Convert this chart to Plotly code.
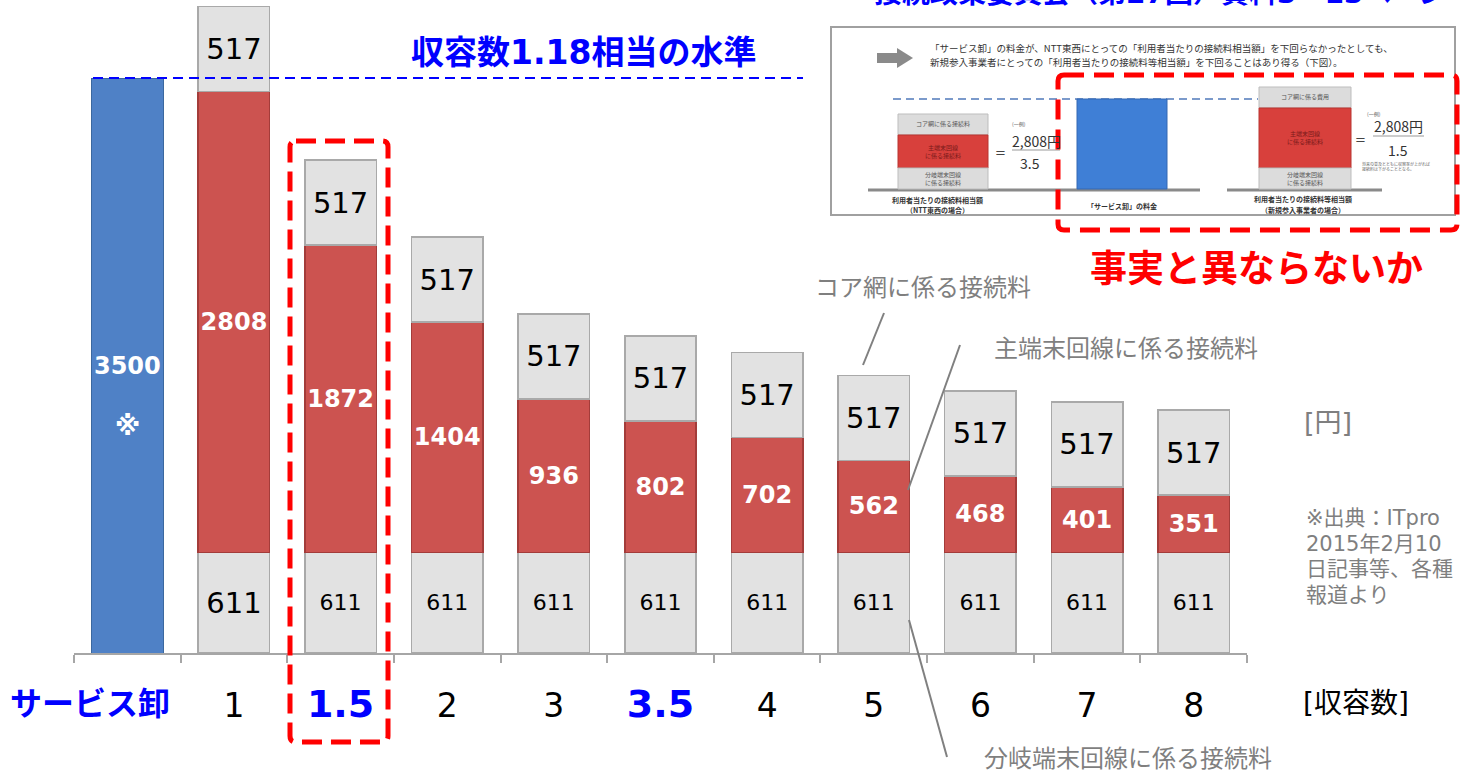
import plotly.graph_objects as go

# ---------------- data ----------------
categories = ["サービス卸", "1", "1.5", "2", "3", "3.5", "4", "5", "6", "7", "8"]
wholesale = [3500, None, None, None, None, None, None, None, None, None, None]
branch_line = [None, 611, 611, 611, 611, 611, 611, 611, 611, 611, 611]
main_line = [None, 2808, 1872, 1404, 936, 802, 702, 562, 468, 401, 351]
core_net = [None, 517, 517, 517, 517, 517, 517, 517, 517, 517, 517]
tick_labels = [
    "",  # first category label drawn as an offset annotation below
    "1",
    "<span style='color:#0000ff;font-size:38px'><b>1.5</b></span>",
    "2", "3",
    "<span style='color:#0000ff;font-size:38px'><b>3.5</b></span>",
    "4", "5", "6", "7", "8",
]

FONT = "DejaVu Sans, Noto Sans CJK JP"
JP = "Noto Sans CJK JP"

# plot-area geometry (pixels) used only for decorations
L, T, W, H = 74, 0, 1173, 653
def px(x):
    return (x - L) / W
def py(y):
    return (T + H - y) / H

def txt(v):
    return [None if a is None else str(a) for a in v]

fig = go.Figure()

common = dict(textposition="inside", insidetextanchor="middle", constraintext="none", textangle=0)

fig.add_trace(go.Bar(
    x=categories, y=wholesale, name="サービス卸",
    marker=dict(color="#4f81c6", line=dict(color="#3b689f", width=1)),
    text=["3500" if v else None for v in wholesale], texttemplate="<b>%{text}</b>",
    textfont=dict(family=FONT, size=24, color="white"), **common,
))
fig.add_trace(go.Bar(
    x=categories, y=branch_line, name="分岐端末回線に係る接続料",
    marker=dict(color="#e2e2e2", line=dict(color="#a9a9a9", width=1.5)),
    text=txt(branch_line), texttemplate="%{text}",
    textfont=dict(family=FONT, size=[23, 29] + [22] * 9, color="black"), **common,
))
fig.add_trace(go.Bar(
    x=categories, y=main_line, name="主端末回線に係る接続料",
    marker=dict(color="#cc5350", line=dict(color="#a33c3a", width=1.5)),
    text=txt(main_line), texttemplate="<b>%{text}</b>",
    textfont=dict(family=FONT, size=24, color="white"), **common,
))
fig.add_trace(go.Bar(
    x=categories, y=core_net, name="コア網に係る接続料",
    marker=dict(color="#e2e2e2", line=dict(color="#a9a9a9", width=1.5)),
    text=txt(core_net), texttemplate="%{text}",
    textfont=dict(family=FONT, size=29, color="black"), **common,
))

annotations = []
def ann(text, x, y, size, color, bold=False, xanchor="center", yanchor="middle", family=FONT, align="center"):
    annotations.append(dict(
        text=f"<b>{text}</b>" if bold else text, x=px(x), y=py(y),
        xref="paper", yref="paper", showarrow=False, xanchor=xanchor, yanchor=yanchor,
        align=align, font=dict(size=size, color=color, family=family)))

# ※ under 3500
annotations.append(dict(text="<b>※</b>", x=categories[0], y=wholesale[0] / 2, xref="x", yref="y",
                        yshift=-60, showarrow=False, font=dict(size=26, color="white", family=FONT)))
# first category label (shifted left as in the original)
annotations.append(dict(text="<b>" + categories[0] + "</b>", x=categories[0], y=py(704), xref="x", yref="paper",
                        xshift=-37, showarrow=False, xanchor="center", yanchor="middle",
                        font=dict(size=32, color="#0000ff", family=FONT)))

ann("収容数1.18相当の水準", 583, 53, 33, "#0000ff", bold=True)
ann("接続政策委員会（第27回）資料3－13ページ", 1160, -6, 28, "#0000ff", bold=True)
ann("事実と異ならないか", 1256, 270, 37, "#ff0000", bold=True)
ann("コア網に係る接続料", 923, 285, 24, "#7f7f7f", family=JP)
ann("主端末回線に係る接続料", 1126, 346, 24, "#7f7f7f", family=JP)
ann("分岐端末回線に係る接続料", 1128, 757, 24, "#7f7f7f", family=JP)
ann("[円]", 1328, 422, 27, "#7f7f7f")
ann("[収容数]", 1356, 703, 28, "black")
for i, line_txt in enumerate(["※出典：ITpro", "2015年2月10", "日記事等、各種", "報道より"]):
    ann(line_txt, 1304, 518 + i * 25.5, 21, "#7f7f7f", xanchor="left")

shapes = []
def line(x0, y0, x1, y1, color, width, dash="solid"):
    shapes.append(dict(type="line", xref="paper", yref="paper", x0=px(x0), y0=py(y0), x1=px(x1), y1=py(y1),
                       line=dict(color=color, width=width, dash=dash)))
def rect(x0, y0, x1, y1, fill, lc=None, lw=0, layer="above"):
    shapes.append(dict(type="rect", xref="paper", yref="paper", x0=px(x0), y0=py(y0), x1=px(x1), y1=py(y1),
                       fillcolor=fill, line=dict(color=lc or fill, width=lw), layer=layer))
def rrect(x0, y0, x1, y1, r, color, width, dash):
    p = (f"M {px(x0+r)},{py(y0)} L {px(x1-r)},{py(y0)} Q {px(x1)},{py(y0)} {px(x1)},{py(y0+r)} "
         f"L {px(x1)},{py(y1-r)} Q {px(x1)},{py(y1)} {px(x1-r)},{py(y1)} "
         f"L {px(x0+r)},{py(y1)} Q {px(x0)},{py(y1)} {px(x0)},{py(y1-r)} "
         f"L {px(x0)},{py(y0+r)} Q {px(x0)},{py(y0)} {px(x0+r)},{py(y0)} Z")
    shapes.append(dict(type="path", xref="paper", yref="paper", path=p,
                       line=dict(color=color, width=width, dash=dash)))

# 3500 reference level
line(93, 78, 803, 78, "#0000ff", 2, "10px,6px")

# callout lines
line(884, 313, 863, 365, "#808080", 2)
line(960, 345, 908, 490, "#808080", 2)
line(909, 620, 947, 757, "#808080", 2)

# ---- inset (document excerpt) ----
rect(831, 27, 1455, 215, "white", "#a0a0a0", 2)
rect(877, 53, 898, 63, "#8a8a8a")
shapes.append(dict(type="path", xref="paper", yref="paper",
                   path=f"M {px(897)},{py(48)} L {px(913)},{py(58)} L {px(897)},{py(68)} Z",
                   fillcolor="#8a8a8a", line=dict(width=0)))
ann("「サービス卸」の料金が、NTT東西にとっての「利用者当たりの接続料相当額」を下回らなかったとしても、",
    928, 48, 9.5, "#333333", xanchor="left", family=JP)
ann("新規参入事業者にとっての「利用者当たりの接続料等相当額」を下回ることはあり得る（下図）。",
    928, 62, 9.5, "#333333", xanchor="left", family=JP)
line(893, 99, 1258, 99, "#7b9acb", 2, "8px,5px")
line(868, 190, 1200, 190, "#8a8a8a", 3)
line(1227, 190, 1382, 190, "#8a8a8a", 3)
# left small stack
rect(898, 114, 988, 135, "#dcdcdc", "#bdbdbd", 1)
rect(898, 135, 988, 168, "#d8403c", "#b83430", 1)
rect(898, 168, 988, 189, "#dcdcdc", "#bdbdbd", 1)
ann("コア網に係る接続料", 943, 124, 6, "#555555", family=JP)
ann("主端末回線<br>に係る接続料", 943, 151, 6, "#7a1a1a", family=JP)
ann("分岐端末回線<br>に係る接続料", 943, 178, 6, "#555555", family=JP)
ann("(一例)", 1019, 124, 5, "#555555", family=JP)
ann("=", 1000, 152, 13, "#444444")
ann("2,808円", 1036, 141, 14, "#333333", family=JP)
line(1012, 150, 1060, 150, "#999999", 1)
ann("3.5", 1030, 163, 14, "#333333", family=JP)
ann("<b>利用者当たりの接続料相当額</b>", 937, 200, 7, "#333333", family=JP)
ann("<b>（NTT東西の場合）</b>", 937, 210, 7, "#333333", family=JP)
# blue bar
rect(1077, 99, 1167, 189, "#3f7fd6", "#3569b3", 1)
ann("<b>「サービス卸」の料金</b>", 1122, 206, 7, "#333333", family=JP)
# right small stack
rect(1259, 87, 1351, 108, "#dcdcdc", "#bdbdbd", 1)
rect(1259, 108, 1351, 168, "#d8403c", "#b83430", 1)
rect(1259, 168, 1351, 189, "#dcdcdc", "#bdbdbd", 1)
ann("コア網に係る費用", 1305, 97, 6, "#555555", family=JP)
ann("主端末回線<br>に係る接続料", 1305, 138, 6, "#7a1a1a", family=JP)
ann("分岐端末回線<br>に係る接続料", 1305, 178, 6, "#555555", family=JP)
ann("=", 1361, 140, 13, "#444444")
ann("(一例)", 1374, 114, 5, "#555555", family=JP)
ann("2,808円", 1398, 126, 14, "#333333", family=JP)
line(1373, 136, 1424, 136, "#999999", 1)
ann("1.5", 1398, 150, 14, "#333333", family=JP)
ann("将来の普及とともに収容率が上がれば<br>接続料は下がることとなる。", 1360, 167, 4, "#666666", xanchor="left", family=JP, align="left")
ann("<b>利用者当たりの接続料等相当額</b>", 1303, 199, 7, "#333333", family=JP)
ann("<b>（新規参入事業者の場合）</b>", 1303, 210, 7, "#333333", family=JP)

# red dashed highlight boxes
rrect(1058, 75, 1457, 230, 6, "#ff0000", 5, "20px,10px")
rrect(290, 141, 388, 742, 6, "#ff0000", 5, "20px,9px")

fig.update_layout(
    width=1473, height=775,
    margin=dict(l=L, r=1473 - L - W, t=T, b=775 - H, autoexpand=False),
    barmode="stack", bargap=0.33,
    showlegend=False,
    paper_bgcolor="white", plot_bgcolor="white",
    font=dict(family=FONT),
    xaxis=dict(type="category", categoryorder="array", categoryarray=categories,
               range=[-0.5, len(categories) - 0.5], autorange=False,
               tickmode="array", tickvals=categories, ticktext=tick_labels,
               tickson="boundaries", ticks="outside", ticklen=8, tickcolor="#a6a6a6", tickwidth=2,
               showline=True, linecolor="#a6a6a6", linewidth=2, showgrid=False,
               ticklabelstandoff=22, tickangle=0, automargin=False,
               tickfont=dict(family=FONT, size=33, color="black")),
    yaxis=dict(range=[0, 3975], autorange=False, visible=False, showgrid=False, zeroline=False, automargin=False),
    annotations=annotations,
    shapes=shapes,
)

fig.write_html("out.html", config={"displayModeBar": False},
               post_script="document.body.style.margin='0';")
